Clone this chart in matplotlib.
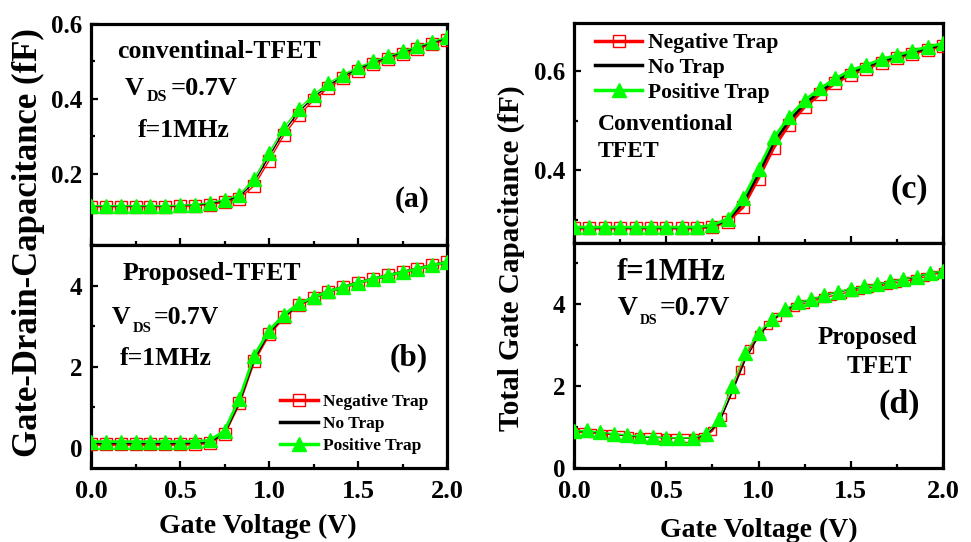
import numpy as np
import matplotlib
matplotlib.use('Agg')
import matplotlib.pyplot as plt
from matplotlib.ticker import MultipleLocator
from matplotlib.lines import Line2D

plt.rcParams['font.family'] = 'Liberation Serif'
plt.rcParams['font.weight'] = 'bold'

# gate voltage sweeps (V)
vg = np.linspace(0, 2, 25)        # 1/12 V step
vg_d = np.linspace(0, 2, 29)      # 1/14 V step
vg_d_neg = np.linspace(0, 2, 41)  # 0.05 V step

# (a) gate-drain capacitance, conventional TFET (fF)
neg_a = [0.112, 0.112, 0.112, 0.112, 0.112, 0.112, 0.113, 0.115, 0.118, 0.124, 0.134,
         0.168, 0.235, 0.303, 0.356, 0.396, 0.430, 0.455, 0.475, 0.492, 0.507, 0.520,
         0.533, 0.546, 0.558]
none_a = [0.114, 0.114, 0.114, 0.114, 0.114, 0.114, 0.115, 0.117, 0.121, 0.128, 0.139,
          0.178, 0.246, 0.313, 0.365, 0.404, 0.436, 0.460, 0.480, 0.496, 0.511, 0.524,
          0.537, 0.550, 0.562]
pos_a = [0.115, 0.115, 0.115, 0.115, 0.115, 0.115, 0.116, 0.118, 0.123, 0.131, 0.144,
         0.187, 0.256, 0.323, 0.373, 0.411, 0.442, 0.465, 0.484, 0.500, 0.514, 0.527,
         0.540, 0.553, 0.565]

# (b) gate-drain capacitance, proposed TFET (fF)
neg_b = [0.08, 0.08, 0.08, 0.08, 0.08, 0.08, 0.08, 0.09, 0.12, 0.35, 1.10, 2.15, 2.80,
         3.22, 3.52, 3.70, 3.85, 3.96, 4.07, 4.16, 4.25, 4.33, 4.41, 4.50, 4.58]
none_b = [0.12, 0.12, 0.12, 0.12, 0.12, 0.12, 0.12, 0.13, 0.15, 0.38, 1.15, 2.21, 2.85,
          3.25, 3.54, 3.71, 3.86, 3.96, 4.07, 4.16, 4.25, 4.33, 4.41, 4.50, 4.58]
pos_b = [0.15, 0.15, 0.15, 0.15, 0.15, 0.15, 0.15, 0.16, 0.18, 0.42, 1.21, 2.27, 2.89,
         3.28, 3.56, 3.71, 3.86, 3.96, 4.07, 4.16, 4.25, 4.33, 4.41, 4.50, 4.58]

# (c) total gate capacitance, conventional TFET (fF)
neg_c = [0.283, 0.283, 0.283, 0.283, 0.283, 0.283, 0.283, 0.283, 0.283, 0.286, 0.296,
         0.325, 0.383, 0.445, 0.492, 0.527, 0.553, 0.575, 0.593, 0.605, 0.617, 0.626,
         0.635, 0.643, 0.651]
none_c = [0.284, 0.284, 0.284, 0.284, 0.284, 0.284, 0.284, 0.284, 0.284, 0.288, 0.299,
          0.334, 0.393, 0.456, 0.500, 0.534, 0.559, 0.580, 0.598, 0.609, 0.621, 0.629,
          0.638, 0.646, 0.654]
pos_c = [0.285, 0.285, 0.285, 0.285, 0.285, 0.285, 0.285, 0.285, 0.285, 0.289, 0.302,
         0.343, 0.403, 0.466, 0.508, 0.541, 0.565, 0.585, 0.602, 0.612, 0.624, 0.632,
         0.641, 0.649, 0.656]

# (d) total gate capacitance, proposed TFET (fF)
neg_d = [0.88, 0.87, 0.85, 0.84, 0.82, 0.80, 0.79, 0.77, 0.76, 0.75, 0.74, 0.73, 0.73,
         0.73, 0.75, 0.90, 1.25, 1.80, 2.40, 2.90, 3.25, 3.50, 3.68, 3.82, 3.93, 4.02,
         4.09, 4.15, 4.21, 4.26, 4.31, 4.36, 4.40, 4.44, 4.48, 4.53, 4.57, 4.62, 4.67,
         4.73, 4.78]
none_d = [0.89, 0.91, 0.86, 0.83, 0.80, 0.77, 0.75, 0.74, 0.74, 0.74, 0.80, 1.10, 1.85,
          2.65, 3.22, 3.60, 3.85, 4.03, 4.11, 4.22, 4.30, 4.37, 4.43, 4.48, 4.55, 4.61,
          4.67, 4.76, 4.80]
pos_d = [0.90, 0.92, 0.87, 0.84, 0.81, 0.78, 0.76, 0.74, 0.74, 0.74, 0.83, 1.20, 2.01,
         2.81, 3.30, 3.65, 3.88, 4.05, 4.12, 4.23, 4.31, 4.38, 4.44, 4.49, 4.56, 4.62,
         4.68, 4.77, 4.81]

labels = ['Negative Trap', 'No Trap', 'Positive Trap']
RED = '#ff0000'
GREEN = '#00ff00'

W, H = 971, 542
fig = plt.figure(figsize=(W / 100, H / 100), dpi=100)
renderer = fig.canvas.get_renderer()


def px_axes(x0, y0, x1, y1):
    return fig.add_axes([x0 / W, 1 - y1 / H, (x1 - x0) / W, (y1 - y0) / H])


def style(ax, ylim, ymaj, ymin, xlabels=True):
    ax.set_xlim(0, 2)
    ax.set_ylim(*ylim)
    ax.xaxis.set_major_locator(MultipleLocator(0.5))
    ax.xaxis.set_minor_locator(MultipleLocator(0.25))
    ax.yaxis.set_major_locator(MultipleLocator(ymaj))
    ax.yaxis.set_minor_locator(MultipleLocator(ymin))
    for s in ax.spines.values():
        s.set_linewidth(2.3)
    ax.tick_params(which='both', direction='in', width=1.6, top=False, right=False)
    ax.tick_params(which='major', length=5)
    ax.tick_params(which='minor', length=3)
    ax.tick_params(axis='x', labelsize=19, pad=9, labelbottom=xlabels)
    ax.tick_params(axis='y', labelsize=18, pad=6)


def curves(ax, x_neg, neg, x_none, none, x_pos, pos, lw, ms_sq, ms_tri):
    ax.plot(x_neg, neg, color=RED, lw=lw, marker='s', ms=ms_sq, mfc='none',
            mec=RED, mew=1.0, zorder=3)
    ax.plot(x_none, none, color='black', lw=lw, zorder=4)
    ax.plot(x_pos, pos, color=GREEN, lw=lw, marker='^', ms=ms_tri, mfc=GREEN,
            mec=GREEN, zorder=5)


def txt(x, y, s, size):
    return fig.text(x / W, 1 - y / H, s, fontsize=size, fontweight='bold',
                    ha='left', va='baseline')


def vds(x, y, size, sub_size, drop, gap=2):
    # "V" + small lowered "DS" + "=0.7V", placed one after another
    t = txt(x, y, 'V', size)
    x1 = t.get_window_extent(renderer).x1
    s = fig.text((x1 + gap) / W, 1 - (y + drop) / H, 'DS', fontsize=sub_size,
                 fontweight='bold', ha='left', va='baseline')
    x2 = s.get_window_extent(renderer).x1
    fig.text((x2 + gap) / W, 1 - y / H, '=0.7V', fontsize=size, fontweight='bold',
             ha='left', va='baseline')


# left column: gate-drain capacitance
ax_a = px_axes(91, 24, 447, 245)
curves(ax_a, vg, neg_a, vg, none_a, vg, pos_a, 1.0, 8.5, 10)
style(ax_a, (0.01, 0.6), 0.2, 0.1, xlabels=False)

ax_b = px_axes(91, 245, 447, 468)
curves(ax_b, vg, neg_b, vg, none_b, vg, pos_b, 2.0, 8.5, 10)
style(ax_b, (-0.5, 5.0), 2, 1)

# right column: total gate capacitance
ax_c = px_axes(574, 23, 943, 243)
curves(ax_c, vg, neg_c, vg, none_c, vg, pos_c, 2.0, 8.5, 10)
style(ax_c, (0.253, 0.697), 0.2, 0.1, xlabels=False)

ax_d = px_axes(574, 243, 943, 468)
curves(ax_d, vg_d_neg, neg_d, vg_d, none_d, vg_d, pos_d, 1.0, 6, 10)
style(ax_d, (0, 5.5), 2, 1)

# legends
handles = [Line2D([], [], color=RED, lw=2.5, marker='s', ms=8, mfc='none', mec=RED),
           Line2D([], [], color='black', lw=2.5),
           Line2D([], [], color=GREEN, lw=2.5, marker='^', ms=9.5, mfc=GREEN, mec=GREEN)]
fig.legend(handles, labels, loc='upper left', bbox_to_anchor=(280 / W, 1 - 394 / H),
           frameon=False, fontsize=12.5, handlelength=2.2, handletextpad=0.3,
           labelspacing=0.33, borderpad=0, borderaxespad=0)
fig.legend(handles, labels, loc='upper left', bbox_to_anchor=(595 / W, 1 - 33 / H),
           frameon=False, fontsize=15.5, handlelength=2.2, handletextpad=0.25,
           labelspacing=0.22, borderpad=0, borderaxespad=0)

# annotations
txt(117, 58, 'conventinal-TFET', 18.5)
vds(125, 95, 19, 11.5, 6, gap=3)
txt(138, 137, 'f=1MHz', 18.5)
txt(395, 207, '(a)', 21.5)

txt(123, 280, 'Proposed-TFET', 18.5)
vds(112, 324, 18.5, 10.5, 8)
txt(120, 365, 'f=1MHz', 18.5)
txt(390, 365, '(b)', 22.5)

txt(598, 130, 'Conventional', 17)
txt(598, 157, 'TFET', 17)
txt(890, 198, '(c)', 24.5)

txt(617, 280, 'f=1MHz', 22)
vds(618, 315, 20, 10, 9)
txt(818, 344, 'Proposed', 18)
txt(847, 373, 'TFET', 18)
txt(878, 413, '(d)', 24.5)

# axis titles
fig.text(28 / W, 1 - 243 / H, 'Gate-Drain-Capacitance (fF)', rotation=90, fontsize=25,
         fontweight='bold', ha='center', va='center')
fig.text(511 / W, 1 - 258 / H, 'Total Gate Capacitance (fF)', rotation=90, fontsize=21,
         fontweight='bold', ha='center', va='center')
fig.text(258 / W, 1 - 533 / H, 'Gate Voltage (V)', fontsize=20, fontweight='bold',
         ha='center', va='baseline')
fig.text(759 / W, 1 - 537 / H, 'Gate Voltage (V)', fontsize=20, fontweight='bold',
         ha='center', va='baseline')

fig.savefig('out.png', dpi=100, facecolor='white')
